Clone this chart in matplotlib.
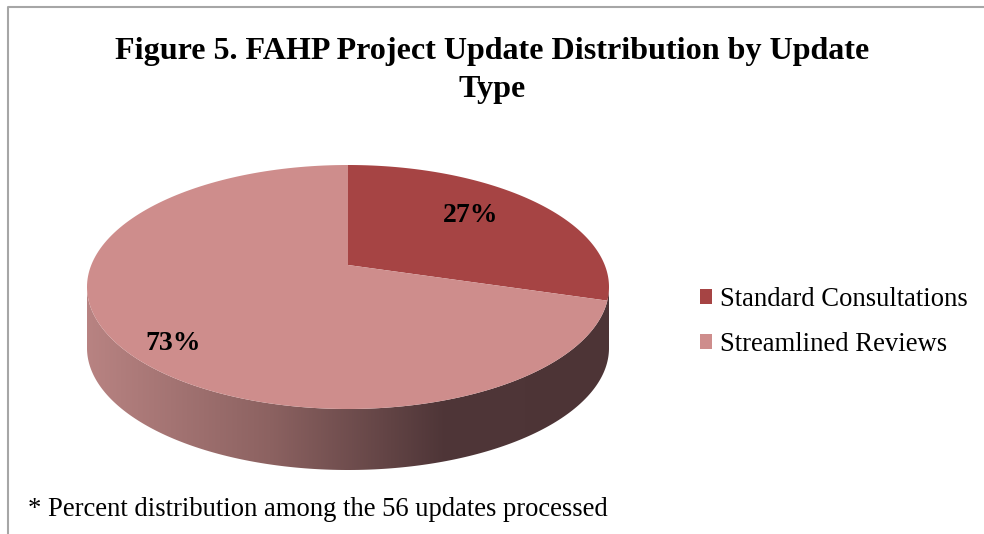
import numpy as np
import matplotlib.pyplot as plt
from matplotlib.patches import Polygon, Patch
from matplotlib.colors import LinearSegmentedColormap

plt.rcParams['font.family'] = ['Liberation Serif', 'DejaVu Serif']

labels = ['Standard Consultations', 'Streamlined Reviews']
counts = [15, 41]          # of the 56 updates processed
colors = ['#a64444', '#ce8d8c']
title = 'Figure 5. FAHP Project Update Distribution by Update\nType'
note = '* Percent distribution among the 56 updates processed'

# pie geometry in pixel space
cx, cy = 348, 287
rx, ry = 261, 122
depth = 61
apex_y = cy - 22   # perspective: apex sits above ellipse centre
label_pos = [(0.63, 0.84), (0.90, 0.76)]   # (x, y) fraction from apex toward rim

fig = plt.figure(figsize=(9.84, 5.34), dpi=100)
ax = fig.add_axes([0, 0, 1, 1])
ax.set_xlim(0, 984)
ax.set_ylim(534, 0)
ax.axis('off')

def rim(t):
    t = np.radians(t)
    return cx + rx * np.cos(t), cy - ry * np.sin(t)

# side wall (front half of the cylinder) with horizontal gradient
t = np.linspace(180, 360, 200)
xs, ys = rim(t)
side = np.concatenate([np.column_stack([xs, ys]),
                       np.column_stack([xs[::-1], ys[::-1] + depth])])
side_poly = Polygon(side, closed=True, facecolor='none', edgecolor='none')
ax.add_patch(side_poly)
cmap = LinearSegmentedColormap.from_list('side', [(0, '#b88382'), (0.35, '#8c6261'),
                                                  (0.68, '#4f3638'), (1, '#4d3436')])
grad = np.linspace(0, 1, 256).reshape(1, -1)
im = ax.imshow(grad, cmap=cmap, aspect='auto',
               extent=[cx - rx, cx + rx, cy + ry + depth, cy - 5], zorder=1)
im.set_clip_path(side_poly)

# top face wedges, clockwise from 12 o'clock
total = sum(counts)
start = 90.0
mids = []
for c, col in zip(counts, colors):
    sweep = 360.0 * c / total
    tt = np.linspace(start, start - sweep, 200)
    px, py = rim(tt)
    pts = np.column_stack([np.r_[cx, px], np.r_[apex_y, py]])
    ax.add_patch(Polygon(pts, closed=True, facecolor=col, edgecolor='none', zorder=2))
    mids.append(start - sweep / 2)
    start -= sweep

# percent labels
for c, m, (fx, fy) in zip(counts, mids, label_pos):
    lx, ly = rim(m)
    lx = cx + (lx - cx) * fx
    ly = apex_y + (ly - apex_y) * fy
    ax.text(lx, ly, f'{100 * c / total:.0f}%', fontsize=20, fontweight='bold',
            ha='center', va='center', zorder=3)

fig.text(0.5, 0.868, title, ha='center', va='center', fontsize=23.1,
         fontweight='bold', linespacing=1.4)

handles = [Patch(facecolor=col, edgecolor='none') for col in colors]
fig.legend(handles, labels, loc='center left', bbox_to_anchor=(0.711, 0.397),
           frameon=False, fontsize=19.2, handlelength=0.48, handleheight=0.48,
           handletextpad=0.3, labelspacing=0.72, borderpad=0, borderaxespad=0)

fig.text(0.028, 0.046, note, fontsize=19.2, ha='left', va='center')

# chart border (top and left visible)
ax.plot([8, 8, 984], [534, 7, 7], color='#a6a6a6', lw=1.5, zorder=0)

plt.savefig('out.png', dpi=100)
